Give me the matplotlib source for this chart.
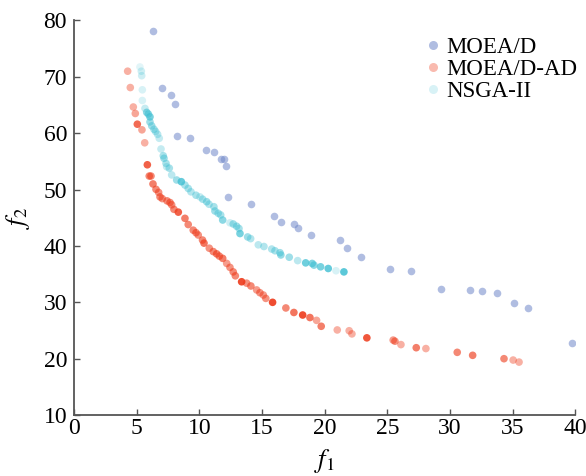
import matplotlib
matplotlib.use("Agg")
import matplotlib.pyplot as plt
from matplotlib.lines import Line2D
import numpy as np

# objective values
moead_f1 = [6.28, 7.02, 7.76, 8.03, 8.19, 9.25, 10.5, 11.19, 11.75, 11.96,
            12.12, 12.3, 14.09, 15.95, 16.5, 17.57, 17.9, 18.87, 21.24, 21.8,
            22.9, 25.2, 26.9, 29.3, 31.55, 32.56, 33.73, 35.1, 36.2, 39.74]
moead_f2 = [78.1, 68.0, 66.7, 65.1, 59.5, 59.2, 57.0, 56.7, 55.5, 55.4,
            54.2, 48.7, 47.4, 45.4, 44.3, 43.9, 43.1, 41.9, 41.0, 39.6,
            38.1, 35.9, 35.6, 32.4, 32.2, 32.05, 31.65, 29.9, 29.0, 22.8]

ad_f1 = [4.28, 4.49, 4.73, 4.89, 5.05, 5.42, 5.64, 5.85, 6.0, 6.14,
         6.3, 6.54, 6.75, 6.86, 7.04, 7.42, 7.66, 7.79, 7.97, 8.32,
         8.85, 9.11, 9.51, 9.73, 9.91, 10.25, 10.37, 10.79, 11.11, 11.38,
         11.59, 11.86, 12.18, 12.44, 12.7, 12.87, 13.37, 13.77, 14.11, 14.57,
         14.83, 15.1, 15.3, 15.84, 16.9, 17.54, 18.24, 18.82, 19.35, 19.72,
         21.0, 21.95, 22.17, 23.36, 25.46, 25.6, 26.08, 27.3, 28.07, 30.57,
         31.8, 34.3, 35.03, 35.5]
ad_f2 = [71.0, 68.1, 64.65, 63.5, 61.6, 60.6, 58.3, 54.4, 52.4, 52.4,
         51.0, 50.05, 49.5, 48.7, 48.4, 48.0, 47.7, 47.3, 46.5, 46.0,
         44.9, 43.8, 42.8, 42.35, 41.94, 41.05, 40.5, 39.6, 39.0, 38.6,
         38.2, 37.8, 36.9, 36.2, 35.4, 34.7, 33.65, 33.4, 32.9, 32.2,
         31.7, 31.3, 30.7, 30.0, 29.0, 28.2, 27.75, 27.3, 26.8, 25.75,
         25.1, 24.96, 24.4, 23.7, 23.3, 23.1, 22.5, 21.95, 21.8, 21.13,
         20.6, 20.0, 19.76, 19.4]

nsga_f1 = [5.26, 5.37, 5.4, 5.45, 5.45, 5.66, 5.8, 5.93, 6.06, 6.06,
           6.2, 6.38, 6.51, 6.67, 6.8, 6.94, 7.12, 7.18, 7.34, 7.39,
           7.6, 7.79, 8.19, 8.56, 8.85, 9.11, 9.33, 9.73, 10.05, 10.26,
           10.58, 10.77, 11.16, 11.24, 11.5, 11.7, 11.86, 12.44, 12.7, 12.97,
           13.16, 13.24, 13.85, 14.09, 14.7, 15.15, 15.77, 16.03, 16.43, 16.5,
           17.17, 17.84, 18.48, 19.0, 19.14, 19.67, 20.28, 20.9, 21.53]
nsga_f2 = [71.75, 71.0, 70.2, 67.7, 65.8, 64.4, 63.7, 63.4, 62.9, 62.0,
           61.3, 60.7, 60.3, 59.8, 59.1, 57.2, 56.0, 55.55, 54.65, 54.05,
           53.8, 52.6, 51.7, 51.4, 50.8, 50.2, 49.6, 49.0, 48.7, 48.3,
           47.85, 47.4, 46.96, 46.2, 45.8, 45.5, 44.6, 44.1, 43.9, 43.5,
           43.1, 42.2, 41.6, 41.3, 40.2, 39.9, 39.45, 39.15, 38.8, 38.4,
           38.0, 37.4, 37.0, 36.9, 36.6, 36.3, 36.0, 35.6, 35.4]

# per-point opacity (the reference shades points unevenly)
ad_alpha = [0.4, 0.4, 0.4, 0.45, 0.75, 0.45, 0.4, 0.8, 0.6, 0.6,
            0.65, 0.6, 0.55, 0.6, 0.55, 0.6, 0.6, 0.55, 0.6, 0.8,
            0.65, 0.6, 0.6, 0.6, 0.55, 0.6, 0.7, 0.55, 0.6, 0.65,
            0.6, 0.65, 0.5, 0.55, 0.6, 0.6, 0.9, 0.55, 0.6, 0.5,
            0.55, 0.5, 0.55, 0.9, 0.6, 0.7, 0.9, 0.7, 0.45, 0.65,
            0.4, 0.4, 0.4, 0.85, 0.5, 0.55, 0.4, 0.65, 0.4, 0.6,
            0.65, 0.6, 0.4, 0.4]
nsga_alpha = [0.15, 0.25, 0.25, 0.2, 0.2, 0.3, 0.6, 0.6, 0.7, 0.5,
              0.5, 0.45, 0.4, 0.35, 0.3, 0.3, 0.45, 0.5, 0.45, 0.3,
              0.45, 0.35, 0.5, 0.8, 0.45, 0.45, 0.4, 0.45, 0.3, 0.45,
              0.5, 0.4, 0.45, 0.5, 0.45, 0.45, 0.6, 0.25, 0.5, 0.5,
              0.45, 0.7, 0.5, 0.4, 0.35, 0.4, 0.4, 0.45, 0.5, 0.55,
              0.5, 0.35, 0.75, 0.65, 0.6, 0.7, 0.8, 0.2, 0.85]

labels = ["MOEA/D", "MOEA/D-AD", "NSGA-II"]
BLUE = "#6f87c9"
RED = "#ee3a1a"
CYAN = "#3fbfd2"

plt.rcParams["font.family"] = ["Liberation Serif", "DejaVu Serif"]
plt.rcParams["mathtext.fontset"] = "stix"

fig = plt.figure(figsize=(5.86, 4.76), dpi=100)
ax = fig.add_axes([0.1263, 0.128, 0.8557, 0.829])


def rgba(color, alphas):
    base = np.array(matplotlib.colors.to_rgba(color))
    out = np.tile(base, (len(alphas), 1))
    out[:, 3] = alphas
    return out


ax.scatter(moead_f1, moead_f2, s=30, color=BLUE, alpha=0.55, linewidths=0, zorder=3)
ax.scatter(ad_f1, ad_f2, s=30, c=rgba(RED, ad_alpha), linewidths=0, zorder=3)
ax.scatter(nsga_f1, nsga_f2, s=30, c=rgba(CYAN, nsga_alpha), linewidths=0, zorder=3)

ax.set_xlim(0, 40)
ax.set_ylim(10, 80)
ax.set_xticks(np.arange(0, 41, 5))
ax.set_yticks(np.arange(10, 81, 10))
for side in ("top", "right"):
    ax.spines[side].set_visible(False)
for side in ("left", "bottom"):
    ax.spines[side].set_color("#555555")
    ax.spines[side].set_linewidth(1.3)
ax.tick_params(direction="in", length=4.5, width=1.0, color="#555555",
               labelsize=17, pad=2)
ax.tick_params(axis="y", pad=5)

ax.set_xlabel(r"$f_1$", fontsize=19, labelpad=6)
ax.set_ylabel(r"$f_2$", fontsize=19, labelpad=8)

handles = [
    Line2D([], [], ls="", marker="o", ms=6.5, mec="none", color=BLUE, alpha=0.55),
    Line2D([], [], ls="", marker="o", ms=6.5, mec="none", color=RED, alpha=0.35),
    Line2D([], [], ls="", marker="o", ms=6.5, mec="none", color=CYAN, alpha=0.2),
]
ax.legend(handles, labels, loc="upper left", bbox_to_anchor=(0.67, 1.0),
          frameon=False, fontsize=16.5, handlelength=0.6, handletextpad=0.3,
          labelspacing=0.05, borderaxespad=0.3)

fig.savefig("out.png", dpi=100)
